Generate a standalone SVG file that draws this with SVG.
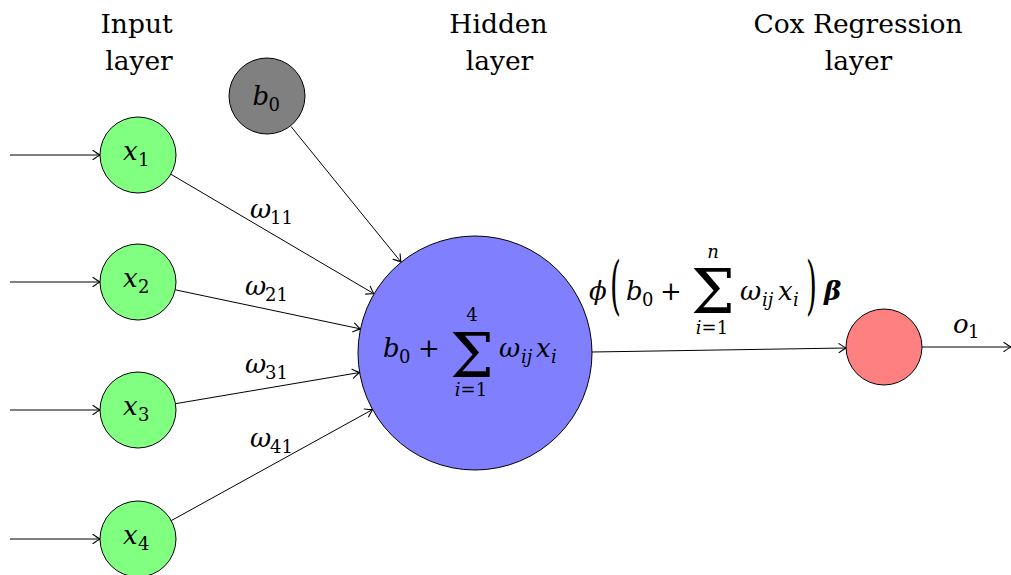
<svg xmlns="http://www.w3.org/2000/svg" width="1011" height="575" viewBox="0 0 1011 575" font-family="DejaVu Serif, serif">
<style>
text{font-family:'DejaVu Serif',serif;fill:#000}
.t{font-size:26.5px}
.m{font-size:26px;font-style:italic}
.u{font-size:26px}
.s{font-size:18px}
.si{font-size:18px;font-style:italic}
.big{font-size:62px}
.node{stroke:#000;stroke-width:1}
.e{stroke:#000;stroke-width:1;fill:none;marker-end:url(#arr)}
</style>
<defs>
<marker id="arr" markerUnits="userSpaceOnUse" markerWidth="14" markerHeight="14" viewBox="-8 -7 9 14" refX="0" refY="0" orient="auto">
<path d="M-7,-4.5 Q-2,-1 0,0 Q-2,1 -7,4.5" fill="none" stroke="#000" stroke-width="1.1" stroke-linecap="round"/>
</marker>
</defs>
<g id="titles">
<text class="t" x="136.5" y="33" text-anchor="middle">Input</text>
<text class="t" x="139" y="70" text-anchor="middle">layer</text>
<text class="t" x="498.5" y="33" text-anchor="middle">Hidden</text>
<text class="t" x="499.5" y="70" text-anchor="middle">layer</text>
<text class="t" x="858" y="33" text-anchor="middle">Cox Regression</text>
<text class="t" x="858.5" y="70" text-anchor="middle">layer</text>
</g>
<g id="connectors">
<line class="e" x1="10" y1="155" x2="100" y2="155"/>
<line class="e" x1="10" y1="282" x2="100" y2="282"/>
<line class="e" x1="10" y1="410" x2="100" y2="410"/>
<line class="e" x1="10" y1="539" x2="100" y2="539"/>
<line class="e" x1="170.8" y1="174.2" x2="374" y2="293.8"/>
<line class="e" x1="175.2" y1="289.8" x2="360.5" y2="328.9"/>
<line class="e" x1="175.5" y1="403.7" x2="359.6" y2="372.5"/>
<line class="e" x1="171.3" y1="520.6" x2="372.6" y2="409.5"/>
<line class="e" x1="291" y1="126.5" x2="401" y2="262"/>
<line class="e" x1="592" y1="352" x2="846" y2="348"/>
<line class="e" x1="922" y1="347" x2="1011" y2="347"/>
<g id="edge-labels">
<text x="250" y="218"><tspan class="m">ω</tspan><tspan class="s" x="270" y="224">11</tspan></text>
<text x="245" y="295"><tspan class="m">ω</tspan><tspan class="s" x="265" y="301">21</tspan></text>
<text x="245" y="373"><tspan class="m">ω</tspan><tspan class="s" x="265" y="379">31</tspan></text>
<text x="250" y="447"><tspan class="m">ω</tspan><tspan class="s" x="270" y="453">41</tspan></text>
<text x="953" y="333"><tspan class="m">o</tspan><tspan class="s" x="968" y="338">1</tspan></text>
</g>
<g id="phi-label">
<text class="m" x="589" y="300">ϕ</text>
<text transform="translate(610,307) scale(0.7,1.6)" style="font-size:40px">(</text>
<text x="626" y="300"><tspan class="m">b</tspan><tspan class="s" x="642" y="306">0</tspan></text>
<text class="u" x="671" y="300" text-anchor="middle">+</text>
<text class="big" x="713" y="313" text-anchor="middle">Σ</text>
<text class="si" x="713" y="258" text-anchor="middle">n</text>
<text class="s" x="712" y="334" text-anchor="middle"><tspan style="font-style:italic">i</tspan>=1</text>
<text x="740" y="300"><tspan class="m">ω</tspan><tspan class="si" x="762" y="306">ij</tspan><tspan class="m" x="778" y="300">x</tspan><tspan class="si" x="793" y="306">i</tspan></text>
<text transform="translate(806,307) scale(0.7,1.6)" style="font-size:40px">)</text>
<text class="m" x="824" y="300" style="font-weight:bold">β</text>
</g>
</g>
<g id="b0">
<circle class="node" cx="267" cy="96" r="38" fill="#808080"/>
<text x="252.5" y="105"><tspan class="m">b</tspan><tspan class="s" x="268.5" y="111">0</tspan></text>
</g>
<g id="x1">
<circle class="node" cx="138" cy="155" r="38" fill="#80ff80"/>
<text x="123" y="160"><tspan class="m">x</tspan><tspan class="s" x="138" y="166">1</tspan></text>
</g>
<g id="x2">
<circle class="node" cx="138" cy="282" r="38" fill="#80ff80"/>
<text x="123" y="287"><tspan class="m">x</tspan><tspan class="s" x="138" y="293">2</tspan></text>
</g>
<g id="x3">
<circle class="node" cx="138" cy="410" r="38" fill="#80ff80"/>
<text x="123" y="415"><tspan class="m">x</tspan><tspan class="s" x="138" y="421">3</tspan></text>
</g>
<g id="x4">
<circle class="node" cx="138" cy="539" r="38" fill="#80ff80"/>
<text x="123" y="544"><tspan class="m">x</tspan><tspan class="s" x="138" y="550">4</tspan></text>
</g>
<g id="hidden">
<circle class="node" cx="475" cy="353" r="117" fill="#8080ff"/>
<text x="383" y="357"><tspan class="m">b</tspan><tspan class="s" x="399" y="363">0</tspan></text>
<text class="u" x="429" y="357" text-anchor="middle">+</text>
<text class="big" x="472" y="377" text-anchor="middle">Σ</text>
<text class="s" x="472" y="321" text-anchor="middle">4</text>
<text class="s" x="471" y="396" text-anchor="middle"><tspan style="font-style:italic">i</tspan>=1</text>
<text x="499" y="357"><tspan class="m">ω</tspan><tspan class="si" x="521" y="363">ij</tspan><tspan class="m" x="536" y="357">x</tspan><tspan class="si" x="551" y="363">i</tspan></text>
</g>
<g id="output">
<circle class="node" cx="884" cy="347" r="38" fill="#ff8080"/>
</g>
</svg>
